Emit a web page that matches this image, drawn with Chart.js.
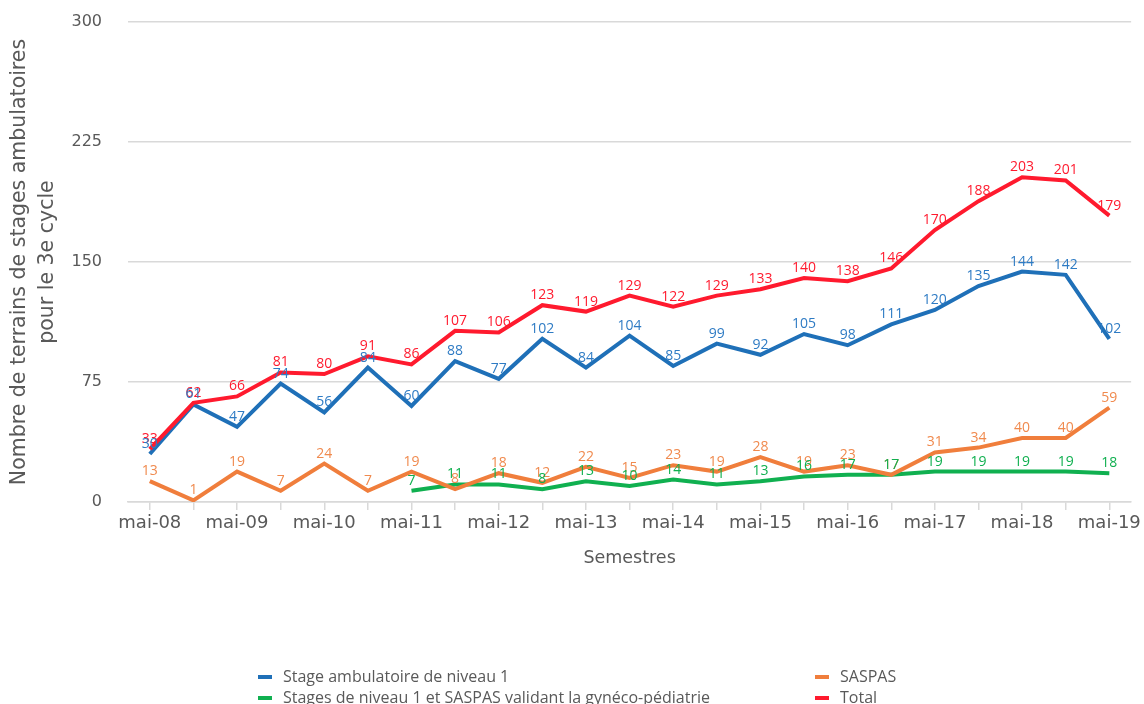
<!DOCTYPE html>
<html>
<head>
<meta charset="utf-8">
<script src="https://cdn.jsdelivr.net/npm/chart.js@4/dist/chart.umd.min.js"></script>
<style>
  html, body { margin: 0; padding: 0; background: #fff; }
  #wrap { position: relative; width: 1144px; height: 704px; overflow: hidden; }
  #legend { position: absolute; left: 0; top: 0; width: 1144px; height: 704px; pointer-events: none;
            font-family: "Open Sans", sans-serif; font-size: 16px; color: #595959; }
  .item { position: absolute; white-space: nowrap; line-height: 20px; }
  .item span.mark { display: inline-block; width: 14px; height: 4px; vertical-align: middle; margin-right: 11px; position: relative; top: -1px; }
</style>
</head>
<body>
<div id="wrap">
  <canvas id="lineChart" width="1144" height="704"></canvas>
  <div id="legend"></div>
</div>
<script>
var semestres = ["mai-08", "nov-08", "mai-09", "nov-09", "mai-10", "nov-10", "mai-11", "nov-11",
  "mai-12", "nov-12", "mai-13", "nov-13", "mai-14", "nov-14", "mai-15", "nov-15", "mai-16",
  "nov-16", "mai-17", "nov-17", "mai-18", "nov-18", "mai-19"];

var stageNiveau1 = [30, 61, 47, 74, 56, 84, 60, 88, 77, 102, 84, 104, 85, 99, 92, 105, 98, 111, 120, 135, 144, 142, 102];
var saspas = [13, 1, 19, 7, 24, 7, 19, 8, 18, 12, 22, 15, 23, 19, 28, 19, 23, 17, 31, 34, 40, 40, 59];
var gyneco = [null, null, null, null, null, null, 7, 11, 11, 8, 13, 10, 14, 11, 13, 16, 17, 17, 19, 19, 19, 19, 18];
var total = [33, 62, 66, 81, 80, 91, 86, 107, 106, 123, 119, 129, 122, 129, 133, 140, 138, 146, 170, 188, 203, 201, 179];

var yTicks = [0, 75, 150, 225, 300];

var gris = "#595959";

// etiquettes de valeurs au-dessus des points
var valueLabels = {
  id: "valueLabels",
  afterDatasetsDraw: function (chart) {
    var ctx = chart.ctx;
    ctx.save();
    ctx.font = "14px 'Open Sans', sans-serif";
    ctx.textAlign = "center";
    ctx.textBaseline = "bottom";
    chart.data.datasets.forEach(function (ds, i) {
      var meta = chart.getDatasetMeta(i);
      ctx.fillStyle = ds.labelColor;
      meta.data.forEach(function (pt, j) {
        var v = ds.data[j];
        if (v === null || v === undefined) return;
        ctx.fillText(v, pt.x, pt.y - 3);
      });
    });
    ctx.restore();
  },
};

var ctx = document.getElementById("lineChart").getContext("2d");
var chart = new Chart(ctx, {
  type: "line",
  data: {
    labels: semestres,
    datasets: [
      { label: "Total", data: total, borderColor: "#FF1A2E", labelColor: "#FF1A2E" },
      { label: "Stage ambulatoire de niveau 1", data: stageNiveau1, borderColor: "#1F70B8", labelColor: "#2E7BC4" },
      { label: "SASPAS", data: saspas, borderColor: "#F07E3C", labelColor: "#F08A4E" },
      { label: "Stages de niveau 1 et SASPAS validant la gynéco-pédiatrie", data: gyneco, borderColor: "#10B050", labelColor: "#10B050" },
    ].map(function (d) {
      d.borderWidth = 4;
      d.pointRadius = 0;
      d.tension = 0;
      d.fill = false;
      return d;
    }),
  },
  options: {
    responsive: false,
    animation: false,
    layout: { padding: { top: 22, right: 9, left: 0, bottom: 122 } },
    plugins: {
      legend: { display: false },
      tooltip: { enabled: false },
    },
    scales: {
      x: {
        offset: true,
        grid: { drawOnChartArea: false, drawTicks: true, tickLength: 8, color: "#d9d9d9", lineWidth: 1.5 },
        border: { color: "#d9d9d9", width: 1.5 },
        ticks: {
          autoSkip: false,
          maxRotation: 0,
          padding: 3,
          color: gris,
          font: { family: "'DejaVu Sans', sans-serif", size: 18 },
          callback: function (val, idx) {
            return idx % 2 === 0 ? this.getLabelForValue(val) : "";
          },
        },
        title: {
          display: true,
          text: "Semestres",
          color: gris,
          font: { family: "'DejaVu Sans', sans-serif", size: 17.5 },
          padding: { top: 0, bottom: 13 },
        },
        afterFit: function (scale) { scale.height = 80; },
      },
      y: {
        min: 0,
        max: 300,
        afterBuildTicks: function (scale) {
          scale.ticks = yTicks.map(function (v) { return { value: v }; });
        },
        grid: { drawTicks: false, color: "#d9d9d9", lineWidth: 1.5 },
        border: { display: false },
        ticks: {
          padding: 26,
          color: gris,
          font: { family: "'DejaVu Sans', sans-serif", size: 16 },
        },
        title: {
          display: true,
          text: ["Nombre de terrains de stages ambulatoires", "pour le 3e cycle"],
          color: gris,
          font: { family: "'DejaVu Sans', sans-serif", size: 20.5, lineHeight: 1.37 },
          padding: { top: 6, bottom: 0 },
        },
        afterFit: function (scale) {
          scale.width = 128;
          scale.paddingTop = 0;
          scale.paddingBottom = 0;
        },
      },
    },
  },
  plugins: [valueLabels],
});

// legende en deux colonnes
var legendOrder = [1, 2, 3, 0];
var legendPos = [[258, 666], [815, 666], [258, 687], [815, 687]];
var legendEl = document.getElementById("legend");
legendOrder.forEach(function (di, k) {
  var ds = chart.data.datasets[di];
  var item = document.createElement("div");
  item.className = "item";
  item.style.left = legendPos[k][0] + "px";
  item.style.top = legendPos[k][1] + "px";
  var mark = document.createElement("span");
  mark.className = "mark";
  mark.style.background = ds.borderColor;
  item.appendChild(mark);
  item.appendChild(document.createTextNode(ds.label));
  legendEl.appendChild(item);
});
</script>
</body>
</html>
